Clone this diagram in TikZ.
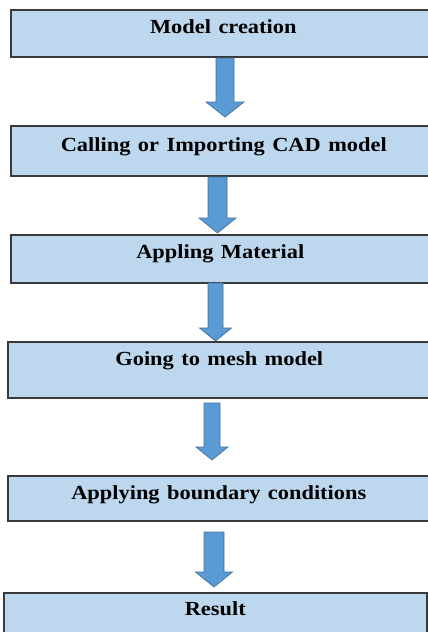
\documentclass[tikz,border=0pt]{standalone}
\usepackage{fontspec}
\setmainfont[WordSpace=0.8]{Liberation Serif}
\usepackage{graphicx}
\definecolor{boxfill}{HTML}{BDD7EE}
\definecolor{boxline}{HTML}{3A3A3A}
\definecolor{arrowfill}{HTML}{5B9BD5}
\definecolor{arrowline}{HTML}{41719C}
% step label: bold serif, slightly widened
\newcommand{\steplabel}[1]{\scalebox{1.12}[1]{#1}}
% block arrow pointing down: #1 start coordinate (top centre of shaft),
% #2 shaft half width, #3 shaft length, #4 head half width, #5 head length
\newcommand{\downblock}[5]{%
  \draw[blockarrow] (#1) ++(-#2,0) -- ++(0,#3) -- ++(#2-#4,0) -- ++(#4,#5)
    -- ++(#4,-#5) -- ++(#2-#4,0) -- ++(0,-#3) -- cycle;}
\begin{document}
\begin{tikzpicture}[x=1pt,y=-1pt,
  stepbox/.style={draw=boxline, line width=1.6pt, fill=boxfill, rectangle,
    anchor=north west, inner sep=0pt, align=center,
    font=\fontsize{20}{24}\selectfont\bfseries},
  blockarrow/.style={fill=arrowfill, draw=arrowline, line width=0.7pt, line join=miter}]
\useasboundingbox (0,0) rectangle (428,632);

\node[stepbox, text width=425pt, text height=24pt, text depth=23pt] (b1) at (10,9)
  {\steplabel{Model creation}};
\node[stepbox, text width=426pt, text height=26pt, text depth=24pt] (b2) at (10,125)
  {\steplabel{Calling or Importing CAD model}};
\node[stepbox, text width=419pt, text height=24pt, text depth=24pt] (b3) at (10,234)
  {\steplabel{Appling Material}};
\node[stepbox, text width=423pt, text height=24pt, text depth=32pt] (b4) at (7,341)
  {\steplabel{Going to mesh model}};
\node[stepbox, text width=422pt, text height=24pt, text depth=21pt] (b5) at (7,475)
  {\steplabel{Applying boundary conditions}};
\node[stepbox, text width=423pt, text height=23pt, text depth=50pt] (b6) at (3,592)
  {\steplabel{Result}};

% arrow start points below each box
\coordinate (a1) at (225,58);
\coordinate (a2) at (217.5,177);
\coordinate (a3) at (215.5,283);
\coordinate (a4) at (212,403);
\coordinate (a5) at (214,532);

\downblock{a1}{9}{44}{19}{15}
\downblock{a2}{9.5}{41}{18.5}{15}
\downblock{a3}{7.5}{45}{16}{13}
\downblock{a4}{8}{44}{16}{13}
\downblock{a5}{10}{40}{18.5}{15}
\end{tikzpicture}
\end{document}
